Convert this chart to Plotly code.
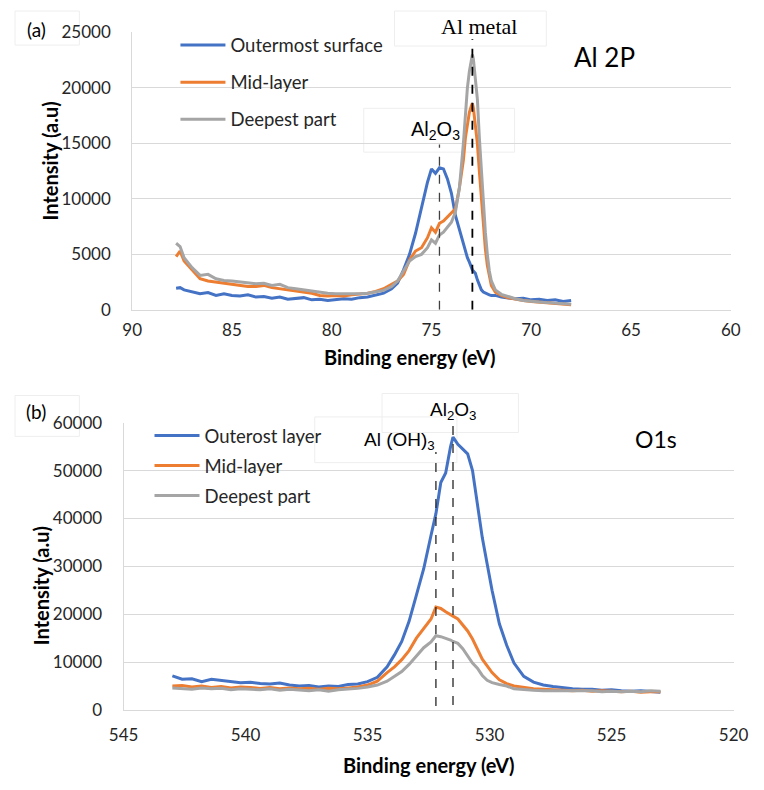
import plotly.graph_objects as go

# ---------------- Panel (a): Al 2P ----------------
x_al = [87.8, 87.6, 87.4, 87.0, 86.6, 86.2, 85.8, 85.4, 85.0, 84.6,
        84.2, 83.8, 83.4, 83.0, 82.6, 82.2, 81.8, 81.4, 81.0, 80.6,
        80.2, 79.8, 79.4, 79.0, 78.6, 78.2, 77.8, 77.4, 77.0, 76.7,
        76.4, 76.1, 75.8, 75.5, 75.2, 75.0, 74.8, 74.6, 74.4, 74.2,
        74.0, 73.8, 73.6, 73.4, 73.3, 73.2, 73.1, 73.0, 72.95, 72.9,
        72.8, 72.7, 72.6, 72.5, 72.4, 72.3, 72.2, 72.1, 72.0, 71.8,
        71.5, 71.2, 70.8, 70.4, 70.0, 69.6, 69.2, 68.8, 68.4, 68.0]
al_outer = [1950, 2000, 1800, 1600, 1450, 1550, 1300, 1450, 1300, 1250,
            1350, 1150, 1200, 1050, 1150, 950, 1000, 1100, 900, 950,
            850, 900, 1000, 950, 1100, 1150, 1300, 1500, 1900, 2400,
            3600, 5000, 6900, 9300, 11500, 12700, 12300, 12800, 12700, 11800,
            10500, 8500, 7200, 5800, 5200, 4700, 4300, 3800, 3600, 3500,
            3300, 2700, 2200, 1800, 1600, 1500, 1400, 1350, 1300, 1300,
            1150, 1100, 1000, 1050, 900, 950, 850, 900, 750, 850]
al_mid = [4800, 5300, 4400, 3600, 2800, 2600, 2500, 2400, 2300, 2250,
          2100, 2100, 2200, 2000, 1900, 1800, 1750, 1600, 1500, 1300,
          1250, 1300, 1250, 1350, 1400, 1500, 1650, 1900, 2300, 2600,
          3200, 4500, 5300, 5600, 6500, 7400, 7000, 7800, 8000, 8400,
          8700, 9100, 11000, 13500, 15500, 16800, 17800, 18400, 18600, 18200,
          16800, 15000, 12500, 10000, 7500, 5500, 4000, 2900, 2200, 1600,
          1300, 1100, 950, 850, 750, 700, 650, 600, 550, 450]
al_deep = [6000, 5700, 4700, 3800, 3100, 3200, 2800, 2650, 2600, 2500,
           2400, 2350, 2400, 2200, 2300, 2000, 1900, 1800, 1700, 1550,
           1500, 1450, 1450, 1400, 1450, 1500, 1600, 1750, 2100, 2600,
           3500, 4400, 4800, 5000, 5600, 6300, 6000, 6750, 7000, 7500,
           7900, 8800, 11000, 15000, 17500, 20000, 21500, 22600, 23000, 22600,
           21000, 19000, 15500, 12500, 9500, 7000, 5000, 3500, 2600, 1800,
           1400, 1200, 1000, 850, 750, 700, 650, 600, 550, 500]
al_names = ["Outermost surface", "Mid-layer", "Deepest part"]
al_x_ticks = [90, 85, 80, 75, 70, 65, 60]
al_y_ticks = [0, 5000, 10000, 15000, 20000, 25000]
al_ref_lines = [74.6, 72.95]          # Al2O3, Al metal
al_ref_tops = [14900, 24400]

# ---------------- Panel (b): O1s ----------------
x_o = [543.0, 542.6, 542.2, 541.8, 541.4, 541.0, 540.6, 540.2, 539.8, 539.4,
       539.0, 538.6, 538.2, 537.8, 537.4, 537.0, 536.6, 536.2, 535.8, 535.4,
       535.0, 534.6, 534.2, 533.9, 533.6, 533.3, 533.0, 532.7, 532.4, 532.2,
       532.0, 531.8, 531.6, 531.5, 531.3, 531.1, 530.9, 530.7, 530.5, 530.3,
       530.1, 529.9, 529.6, 529.3, 529.0, 528.6, 528.2, 527.8, 527.4, 527.0,
       526.6, 526.2, 525.8, 525.4, 525.0, 524.6, 524.2, 523.8, 523.4, 523.0]
o_outer = [7100, 6400, 6500, 5900, 6400, 6200, 6000, 5700, 5800, 5500,
           5400, 5600, 5200, 5000, 5100, 4800, 5000, 4900, 5300, 5400,
           5900, 6800, 9000, 11500, 14300, 18500, 24000, 29500, 36500, 41000,
           47500, 49500, 55000, 57000, 55500, 54500, 53500, 50000, 43000, 36000,
           30500, 25000, 18000, 13500, 9800, 7000, 5800, 5200, 4900, 4600,
           4400, 4300, 4300, 4100, 4200, 4000, 3900, 4000, 3800, 3700]
o_mid = [5000, 5100, 4800, 5000, 4700, 4900, 4600, 4800, 4700, 4500,
         4700, 4400, 4600, 4400, 4500, 4300, 4500, 4400, 4600, 4800,
         5200, 6000, 7800, 9000, 10500, 12400, 15000, 17000, 19000, 21500,
         21200, 20500, 20000, 19600, 19000, 17800, 16500, 14800, 12800, 10600,
         9200, 7800, 6300, 5500, 5000, 4700, 4400, 4300, 4200, 4100,
         4000, 4100, 3900, 4000, 3900, 3800, 3900, 3700, 3800, 3800]
o_deep = [4600, 4500, 4300, 4600, 4400, 4500, 4200, 4400, 4300, 4200,
          4400, 4100, 4300, 4200, 4000, 4200, 3900, 4200, 4300, 4500,
          4800, 5200, 6000, 7000, 8000, 9500, 11200, 13000, 14200, 15500,
          15300, 15000, 14600, 14300, 13900, 12800, 11200, 9800, 8700, 7200,
          6200, 5700, 5300, 5000, 4400, 4200, 4100, 4000, 4000, 3900,
          4000, 3900, 4000, 3800, 3900, 3800, 3900, 3800, 4000, 3900]
o_names = ["Outerost layer", "Mid-layer", "Deepest part"]
o_x_ticks = [545, 540, 535, 530, 525, 520]
o_y_ticks = [0, 10000, 20000, 30000, 40000, 50000, 60000]
o_ref_lines = [532.2, 531.5]          # Al(OH)3, Al2O3

colors = ["#4472C4", "#ED7D31", "#A5A5A5"]
W, H = 764, 790
FONT = "Lato"
SANS = "Liberation Sans"


def px_x(p):
    return p / W


def px_y(p):
    return 1 - p / H


fig = go.Figure()

for i, (name, ys) in enumerate(zip(al_names, [al_outer, al_mid, al_deep])):
    fig.add_trace(go.Scatter(x=x_al, y=ys, mode="lines", name=name,
                             line=dict(color=colors[i], width=3),
                             xaxis="x", yaxis="y", legend="legend",
                             legendgroup="a%d" % i))
for i, (name, ys) in enumerate(zip(o_names, [o_outer, o_mid, o_deep])):
    fig.add_trace(go.Scatter(x=x_o, y=ys, mode="lines", name=name,
                             line=dict(color=colors[i], width=3),
                             xaxis="x2", yaxis="y2", legend="legend2",
                             legendgroup="b%d" % i))

tickfont = dict(family=FONT, size=17, color="#262626")
xcommon = dict(showgrid=False, zeroline=False, showline=True, linecolor="#d9d9d9",
               linewidth=1, ticks="", tickfont=tickfont)
ycommon = dict(showgrid=True, gridcolor="#d9d9d9", gridwidth=1, zeroline=False,
               showline=True, linecolor="#d9d9d9", linewidth=1,
               ticks="outside", ticklen=17, tickcolor="rgba(0,0,0,0)",
               tickformat="d", tickfont=tickfont)

fig.update_layout(
    width=W, height=H, autosize=False,
    margin=dict(l=0, r=0, t=0, b=0),
    paper_bgcolor="white", plot_bgcolor="white",
    showlegend=True,
    xaxis=dict(domain=[px_x(122), px_x(745)], range=[90, 60],
               tickvals=al_x_ticks, anchor="y", ticklabelstandoff=5, **xcommon),
    yaxis=dict(domain=[px_y(307), px_y(22)], range=[0, 25000],
               tickvals=al_y_ticks, anchor="x", **ycommon),
    xaxis2=dict(domain=[px_x(113), px_x(748)], range=[545, 520],
                tickvals=o_x_ticks, anchor="y2", ticklabelstandoff=10, **xcommon),
    yaxis2=dict(domain=[px_y(718), px_y(423)], range=[0, 60000],
                tickvals=o_y_ticks, anchor="x2", **ycommon),
    legend=dict(x=px_x(167), y=px_y(16), xanchor="left", yanchor="top",
                bgcolor="rgba(0,0,0,0)", tracegroupgap=10, itemwidth=45,
                font=dict(family=FONT, size=18.5, color="#262626"),
                traceorder="grouped"),
    legend2=dict(x=px_x(140), y=px_y(417), xanchor="left", yanchor="top",
                 bgcolor="rgba(0,0,0,0)", tracegroupgap=3, itemwidth=45,
                 font=dict(family=FONT, size=18.5, color="#262626"),
                 traceorder="grouped"),
)

shapes = []
# faint outlines of the text boxes
for (x0, y0, x1, y1) in [(0, 0, 67, 35), (395, 0, 553, 36), (363, 100, 520, 145),
                         (0, 395, 67, 437), (382, 393, 524, 433), (312, 417, 460, 464)]:
    shapes.append(dict(type="rect", xref="paper", yref="paper",
                       x0=px_x(x0), x1=px_x(x1), y0=px_y(y1), y1=px_y(y0),
                       line=dict(color="#eeeeee", width=1), layer="below"))
# dashed reference lines, panel (a)
shapes.append(dict(type="line", xref="x", yref="y", x0=al_ref_lines[0], x1=al_ref_lines[0],
                   y0=0, y1=al_ref_tops[0], line=dict(color="#404040", width=1.3, dash="dash")))
shapes.append(dict(type="line", xref="x", yref="y", x0=al_ref_lines[1], x1=al_ref_lines[1],
                   y0=0, y1=al_ref_tops[1], line=dict(color="black", width=1.8, dash="dash")))
# dashed reference lines, panel (b)
shapes.append(dict(type="line", xref="x2", yref="paper", x0=o_ref_lines[0], x1=o_ref_lines[0],
                   y0=px_y(714), y1=px_y(453), line=dict(color="#262626", width=1.3, dash="dash")))
shapes.append(dict(type="line", xref="x2", yref="paper", x0=o_ref_lines[1], x1=o_ref_lines[1],
                   y0=px_y(713), y1=px_y(420), line=dict(color="#262626", width=1.3, dash="dash")))
fig.update_layout(shapes=shapes)


def ann(text, x, y, size, family=FONT, bold=False, color="black"):
    if bold:
        text = "<b>" + text + "</b>"
    return dict(text=text, x=px_x(x), y=px_y(y), xref="paper", yref="paper",
                showarrow=False, xanchor="center", yanchor="middle",
                font=dict(family=family, size=size, color=color))


annotations = [
    ann("(a)", 22, 19, 19),
    ann("(b)", 22, 411, 19),
    ann("Al 2P", 614, 47, 26),
    ann("O1s", 667, 440, 23),
    ann("Al metal", 483, 16, 22, family="Liberation Serif"),
    ann("Al<sub>2</sub>O<sub>3</sub>", 438, 123, 20, family=SANS),
    ann("Al<sub>2</sub>O<sub>3</sub>", 456, 411, 19, family=SANS),
    ann("Al (OH)<sub>3</sub>", 400, 442, 19, family=SANS),
    ann("Binding energy (eV)", 411, 355, 20, bold=True),
    ann("Binding energy (eV)", 431, 775, 20, bold=True),
]
t1 = ann("Intensity (a.u)", 36, 154, 20, bold=True)
t1["textangle"] = -90
t2 = ann("Intensity (a.u)", 27, 590, 20, bold=True)
t2["textangle"] = -90
annotations += [t1, t2]
fig.update_layout(annotations=annotations)

fig.write_html("out.html")
